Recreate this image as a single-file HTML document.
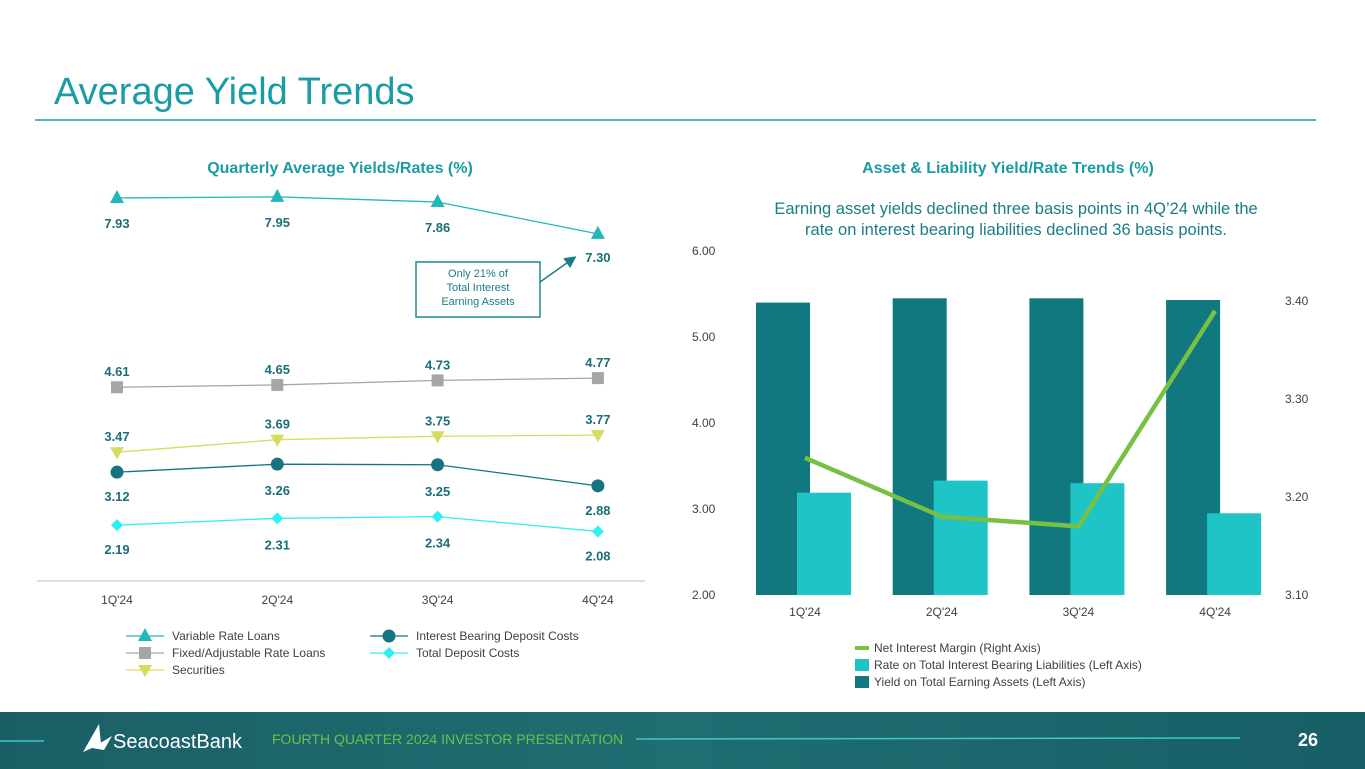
<!DOCTYPE html>
<html><head><meta charset="utf-8"><style>
html,body{margin:0;padding:0;background:#fff;}
svg{display:block;font-family:"Liberation Sans",Calibri,sans-serif;}
</style></head><body>
<svg id="s" width="1365" height="769" viewBox="0 0 1365 769">
<defs>
<linearGradient id="ft" x1="0" y1="0" x2="1" y2="0"><stop offset="0" stop-color="#1b5f66"/><stop offset="0.5" stop-color="#1e6e72"/><stop offset="1" stop-color="#185e66"/></linearGradient>
<marker id="ah" markerWidth="8" markerHeight="8" refX="6" refY="4" orient="auto"><path d="M0,0 L8,4 L0,8 z" fill="#1a7d85"/></marker>
</defs>
<text x="54" y="104" font-size="38" fill="#1a9ca3">Average Yield Trends</text>
<line x1="35" y1="120" x2="1316" y2="120" stroke="#1a9ca3" stroke-width="1.5"/>
<text x="340" y="173" font-size="16" font-weight="bold" fill="#1a9ca3" text-anchor="middle">Quarterly Average Yields/Rates (%)</text>
<text x="1008" y="173" font-size="16" font-weight="bold" fill="#1a9ca3" text-anchor="middle">Asset &amp; Liability Yield/Rate Trends (%)</text>
<text x="1016" y="214" font-size="16.5" fill="#1a7d85" text-anchor="middle">Earning asset yields declined three basis points in 4Q’24 while the</text>
<text x="1016" y="235" font-size="16.5" fill="#1a7d85" text-anchor="middle">rate on interest bearing liabilities declined 36 basis points.</text>
<g id="left"></g>
<g id="right"></g>
<rect x="416" y="262" width="124" height="55" fill="#fff" stroke="#1a8a92" stroke-width="1.5"/>
<text font-size="11" fill="#1a7d85" text-anchor="middle"><tspan x="478" y="277">Only 21% of</tspan><tspan x="478" y="291">Total Interest</tspan><tspan x="478" y="305">Earning Assets</tspan></text>
<line x1="540" y1="282" x2="574" y2="258" stroke="#1a7d85" stroke-width="1.5" marker-end="url(#ah)"/>
<rect x="0" y="712" width="1365" height="57" fill="url(#ft)"/>
<line x1="0" y1="741" x2="44" y2="741" stroke="#3fc8c8" stroke-width="1.5"/>
<line x1="636" y1="739" x2="1240" y2="738" stroke="#3fc8c8" stroke-width="1.5"/>
<path d="M83,752 L99,724 L101,744 Z M92,748 L112,736 L104,750 Z" fill="#fff"/>
<text x="113" y="748" font-size="20" fill="#fff">SeacoastBank</text>
<text x="272" y="744" font-size="14" fill="#6cc04a">FOURTH QUARTER 2024 INVESTOR PRESENTATION</text>
<text x="1318" y="746" font-size="18" font-weight="bold" fill="#fff" text-anchor="end">26</text>
</svg>
<script>
const NS='http://www.w3.org/2000/svg';
function mk(p,t,a){const e=document.createElementNS(NS,t);for(const k in a)e.setAttribute(k,a[k]);p.appendChild(e);return e;}
// Left chart data
const quarters=["1Q'24","2Q'24","3Q'24","4Q'24"];
const variableRate=[7.93,7.95,7.86,7.30];
const fixedRate=[4.61,4.65,4.73,4.77];
const securities=[3.47,3.69,3.75,3.77];
const ibDeposit=[3.12,3.26,3.25,2.88];
const totalDeposit=[2.19,2.31,2.34,2.08];
// Right chart data
const earningYield=[5.40,5.45,5.45,5.43];
const liabRate=[3.19,3.33,3.30,2.95];
const nim=[3.24,3.18,3.17,3.39];
const leftTicks=["2.00","3.00","4.00","5.00","6.00"];
const rightTicks=["3.10","3.20","3.30","3.40"];

const L=document.getElementById('left');
const lx=i=>117+i*160.3;
const ly=v=>650-57*v;
mk(L,'line',{x1:37,y1:581,x2:645,y2:581,stroke:'#bfbfbf','stroke-width':1});
quarters.forEach((q,i)=>{const t=mk(L,'text',{x:lx(i),y:604,'font-size':12,fill:'#404040','text-anchor':'middle'});t.textContent=q;
});
function marker(g,type,x,y,c){
 if(type==='tri')return mk(g,'path',{d:`M${x},${y-8} L${x+7},${y+5} L${x-7},${y+5}Z`,fill:c});
 if(type==='sq')return mk(g,'rect',{x:x-6,y:y-6,width:12,height:12,fill:c});
 if(type==='inv')return mk(g,'path',{d:`M${x-7},${y-5} L${x+7},${y-5} L${x},${y+7}Z`,fill:c});
 if(type==='dot')return mk(g,'circle',{cx:x,cy:y,r:6.5,fill:c});
 return mk(g,'path',{d:`M${x},${y-6} L${x+6},${y} L${x},${y+6} L${x-6},${y}Z`,fill:c});
}
const series=[
 {name:'variable-rate-loans',vals:variableRate,c:'#22b7b9',m:'tri',off:[25,25,25,23]},
 {name:'fixed-rate-loans',vals:fixedRate,c:'#a6a6a6',m:'sq',off:[-16,-16,-16,-16]},
 {name:'securities',vals:securities,c:'#d6dc5c',m:'inv',off:[-16,-16,-16,-16]},
 {name:'ib-deposit-costs',vals:ibDeposit,c:'#167480',m:'dot',off:[24,26,26,24]},
 {name:'total-deposit-costs',vals:totalDeposit,c:'#2ff0f0',m:'dia',off:[24,26,26,24]}
];
series.forEach(s=>{
 const g=mk(L,'g',{});
 const pl=mk(g,'polyline',{points:s.vals.map((v,i)=>lx(i)+','+ly(v)).join(' '),fill:'none',stroke:s.c,'stroke-width':1.3});
 
 s.vals.forEach((v,i)=>{const m=marker(g,s.m,lx(i),ly(v),s.c);
  const t=mk(g,'text',{x:lx(i),y:ly(v)+s.off[i]+5,'font-size':13,'font-weight':'bold',fill:'#1a6f78','text-anchor':'middle'});t.textContent=v.toFixed(2);
  });
});
// legend
const leg=[['Variable Rate Loans','#22b7b9','tri',126,636],['Fixed/Adjustable Rate Loans','#a6a6a6','sq',126,653],['Securities','#d6dc5c','inv',126,670],['Interest Bearing Deposit Costs','#167480','dot',370,636],['Total Deposit Costs','#2ff0f0','dia',370,653]];
leg.forEach(e=>{const g=mk(L,'g',{});
 mk(g,'line',{x1:e[3],y1:e[4],x2:e[3]+38,y2:e[4],stroke:e[1],'stroke-width':1.3});
 marker(g,e[2],e[3]+19,e[4],e[1]);
 const t=mk(g,'text',{x:e[3]+46,y:e[4]+4,'font-size':12,fill:'#404040'});t.textContent=e[0];});

// Right chart
const R=document.getElementById('right');
const cx=i=>805+i*136.7;
const yl=v=>595-86*(v-2);
const yr=v=>595-980*(v-3.10);
leftTicks.forEach(t=>{const e=mk(R,'text',{x:692,y:yl(+t)+4,'font-size':12,fill:'#404040'});e.textContent=t;});
rightTicks.forEach(t=>{const e=mk(R,'text',{x:1285,y:yr(+t)+4,'font-size':12,fill:'#404040'});e.textContent=t;});
quarters.forEach((q,i)=>{
 const b1=mk(R,'rect',{x:cx(i)-49,y:yl(earningYield[i]),width:54,height:595-yl(earningYield[i]),fill:'#117880'});
 
 const b2=mk(R,'rect',{x:cx(i)-8,y:yl(liabRate[i]),width:54,height:595-yl(liabRate[i]),fill:'#1fc5c6'});
 
 const t=mk(R,'text',{x:cx(i),y:616,'font-size':12,fill:'#404040','text-anchor':'middle'});t.textContent=q;
 
});
const nl=mk(R,'polyline',{points:nim.map((v,i)=>cx(i)+','+yr(v)).join(' '),fill:'none',stroke:'#78c043','stroke-width':4.5,'stroke-linejoin':'round'});

const rleg=[['Net Interest Margin (Right Axis)','#78c043',true,648],['Rate on Total Interest Bearing Liabilities (Left Axis)','#1fc5c6',false,665],['Yield on Total Earning Assets (Left Axis)','#117880',false,682]];
rleg.forEach(e=>{const g=mk(R,'g',{});
 if(e[2])mk(g,'rect',{x:855,y:e[3]-2,width:14,height:4,fill:e[1]});else mk(g,'rect',{x:855,y:e[3]-6,width:14,height:12,fill:e[1]});
 const t=mk(g,'text',{x:874,y:e[3]+4,'font-size':12,fill:'#404040'});t.textContent=e[0];});
</script>
</body></html>
